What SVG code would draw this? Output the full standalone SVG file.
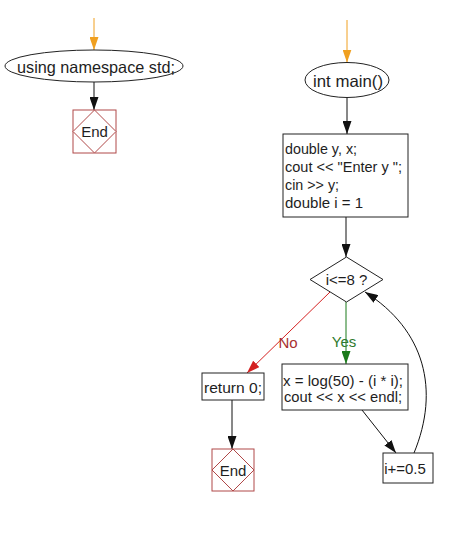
<svg xmlns="http://www.w3.org/2000/svg" width="476" height="536" viewBox="0 0 476 536">
<style>
  text { font-family: "Liberation Sans", Arial, sans-serif; font-size: 15px; fill: #1e1e1e; }
  .c { text-anchor: middle; }
  .big { font-size: 16.5px; }
  .box { fill: #fff; stroke: #222; stroke-width: 1; }
  .end { fill: #fff; stroke: #b04848; stroke-width: 1; }
  .edge { fill: none; stroke: #111; stroke-width: 1; }
</style>
<defs>
  <marker id="ak" viewBox="0 0 13 9" refX="13" refY="4.5" markerWidth="13" markerHeight="9" markerUnits="userSpaceOnUse" orient="auto"><path d="M0,0 L13,4.5 L0,9 z" fill="#111"/></marker>
  <marker id="ao" viewBox="0 0 13 9" refX="13" refY="4.5" markerWidth="13" markerHeight="9" markerUnits="userSpaceOnUse" orient="auto"><path d="M0,0 L13,4.5 L0,9 z" fill="#f0a020"/></marker>
  <marker id="ag" viewBox="0 0 13 9" refX="13" refY="4.5" markerWidth="13" markerHeight="9" markerUnits="userSpaceOnUse" orient="auto"><path d="M0,0 L13,4.5 L0,9 z" fill="#1a7a1a"/></marker>
  <marker id="ar" viewBox="0 0 13 9" refX="13" refY="4.5" markerWidth="13" markerHeight="9" markerUnits="userSpaceOnUse" orient="auto"><path d="M0,0 L13,4.5 L0,9 z" fill="#d42020"/></marker>
</defs>
<rect width="476" height="536" fill="#fff"/>
<g id="connectors">
  <line x1="94" y1="18" x2="94" y2="50" stroke="#f0a020" marker-end="url(#ao)"/>
  <line class="edge" x1="94" y1="82" x2="94" y2="110" marker-end="url(#ak)"/>
  <line x1="347" y1="20" x2="347" y2="62.5" stroke="#f0a020" marker-end="url(#ao)"/>
  <line class="edge" x1="347" y1="97.5" x2="347" y2="134" marker-end="url(#ak)"/>
  <line class="edge" x1="346" y1="217" x2="346" y2="257" marker-end="url(#ak)"/>
  <line x1="346" y1="302" x2="346" y2="364" stroke="#1a7a1a" marker-end="url(#ag)"/>
  <text x="344" y="347" class="c" style="fill:#2e7a2e">Yes</text>
  <line x1="330" y1="292" x2="247" y2="373" stroke="#d42020" marker-end="url(#ar)"/>
  <text x="288" y="348" class="c" style="fill:#a83030">No</text>
  <line class="edge" x1="232" y1="400" x2="232" y2="449" marker-end="url(#ak)"/>
  <line class="edge" x1="362" y1="410" x2="396" y2="453" marker-end="url(#ak)"/>
  <path class="edge" d="M414,453 C440,390 425,330 365,292" marker-end="url(#ak)"/>
</g>
<g id="n_using">
  <ellipse cx="94" cy="66" rx="89" ry="16" class="box"/>
  <text x="96" y="73" class="c big" textLength="158" lengthAdjust="spacingAndGlyphs">using namespace std;</text>
</g>
<g id="n_end1">
  <rect x="73" y="110" width="43" height="43" class="end"/>
  <path d="M94.5,110 L116,131.5 L94.5,153 L73,131.5 Z" class="end"/>
  <text x="94.5" y="137" class="c">End</text>
</g>
<g id="n_main">
  <ellipse cx="347" cy="80" rx="42" ry="17.5" class="box"/>
  <text x="348" y="86.5" class="c big" textLength="70" lengthAdjust="spacingAndGlyphs">int main()</text>
</g>
<g id="n_decl">
  <rect x="283" y="134" width="125" height="83" class="box"/>
  <text x="285" y="154" textLength="72" lengthAdjust="spacingAndGlyphs">double y, x;</text>
  <text x="285" y="172" textLength="117" lengthAdjust="spacingAndGlyphs">cout &lt;&lt; "Enter y ";</text>
  <text x="285" y="190" textLength="54" lengthAdjust="spacingAndGlyphs">cin &gt;&gt; y;</text>
  <text x="285" y="208" textLength="78" lengthAdjust="spacingAndGlyphs">double i = 1</text>
</g>
<g id="n_cond">
  <path d="M346.5,257 L383,279.5 L346.5,302 L310,279.5 Z" class="box"/>
  <text x="346.5" y="285" class="c">i&lt;=8 ?</text>
</g>
<g id="n_return">
  <rect x="202" y="373" width="62" height="27" class="box"/>
  <text x="233" y="393" class="c" textLength="58" lengthAdjust="spacingAndGlyphs">return 0;</text>
</g>
<g id="n_end2">
  <rect x="212" y="449" width="42" height="42" class="end"/>
  <path d="M233,449 L254,470 L233,491 L212,470 Z" class="end"/>
  <text x="233" y="475.5" class="c">End</text>
</g>
<g id="n_body">
  <rect x="282" y="364" width="126" height="46" class="box"/>
  <text x="283" y="386" textLength="120" lengthAdjust="spacingAndGlyphs">x = log(50) - (i * i);</text>
  <text x="284" y="402" textLength="118" lengthAdjust="spacingAndGlyphs">cout &lt;&lt; x &lt;&lt; endl;</text>
</g>
<g id="n_inc">
  <rect x="383" y="453" width="50" height="30" class="box"/>
  <text x="405" y="474" class="c">i+=0.5</text>
</g>
</svg>
